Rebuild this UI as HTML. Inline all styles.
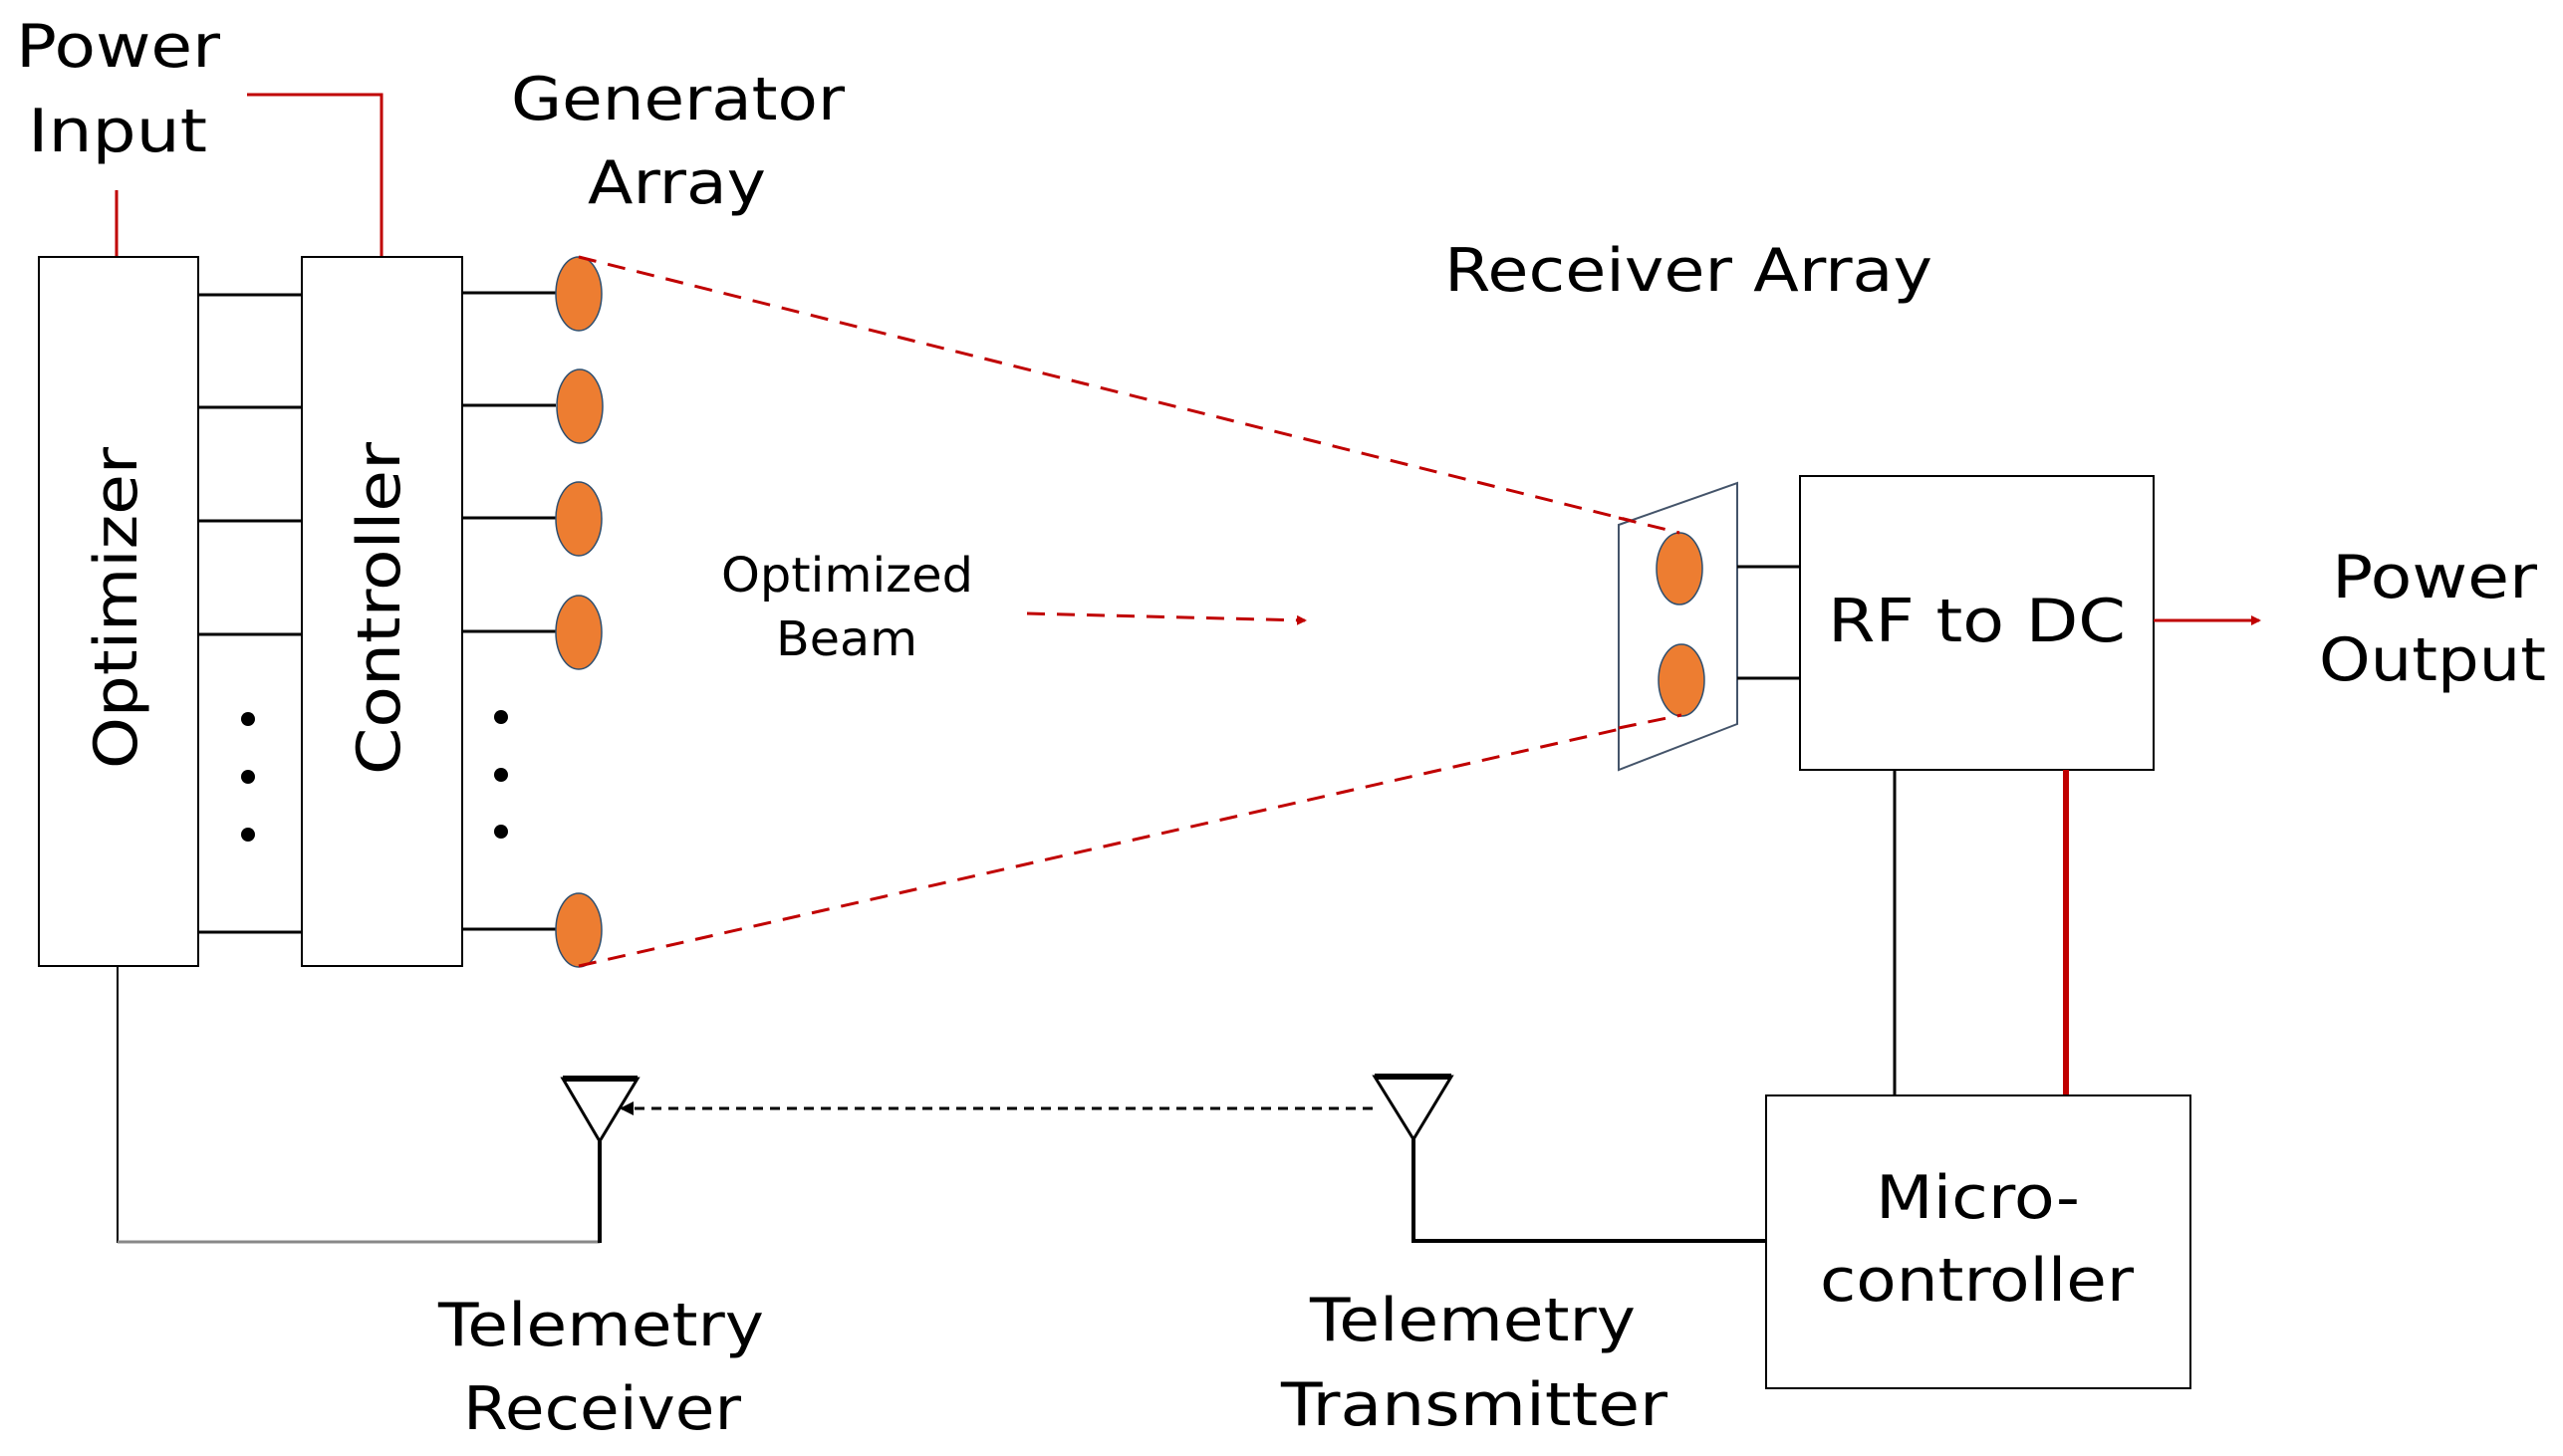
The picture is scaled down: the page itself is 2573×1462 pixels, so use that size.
<!DOCTYPE html>
<html><head><meta charset="utf-8"><style>
html,body{margin:0;padding:0;background:#fff;}
svg{display:block;}
text{font-family:"DejaVu Sans","Liberation Sans",sans-serif;fill:#000;}
</style></head><body>
<svg width="2573" height="1462" viewBox="0 0 2573 1462" xmlns="http://www.w3.org/2000/svg">
<defs>
<marker id="ar" markerWidth="10" markerHeight="10" refX="8" refY="5" orient="auto" markerUnits="userSpaceOnUse">
<path d="M0,0 L10,5 L0,10 z" fill="#c00000"/></marker>
<marker id="ab" markerWidth="14" markerHeight="14" refX="12" refY="7" orient="auto" markerUnits="userSpaceOnUse">
<path d="M0,0 L14,7 L0,14 z" fill="#000"/></marker>
</defs>
<!-- power input red lines -->
<line x1="117" y1="191" x2="117" y2="258" stroke="#c00000" stroke-width="3"/>
<polyline points="248,95 383,95 383,258" fill="none" stroke="#c00000" stroke-width="3"/>
<!-- boxes -->
<rect x="39" y="258" width="160" height="712" fill="#fff" stroke="#000" stroke-width="2"/>
<rect x="303" y="258" width="161" height="712" fill="#fff" stroke="#000" stroke-width="2"/>
<g stroke="#000" stroke-width="3">
<line x1="199" y1="296" x2="303" y2="296"/><line x1="199" y1="409" x2="303" y2="409"/>
<line x1="199" y1="523" x2="303" y2="523"/><line x1="199" y1="637" x2="303" y2="637"/>
<line x1="199" y1="936" x2="303" y2="936"/>
<line x1="464" y1="294" x2="558" y2="294"/><line x1="464" y1="407" x2="558" y2="407"/>
<line x1="464" y1="520" x2="558" y2="520"/><line x1="464" y1="634" x2="558" y2="634"/>
<line x1="464" y1="933" x2="558" y2="933"/>
</g>
<g fill="#000">
<circle cx="249" cy="722" r="7"/><circle cx="249" cy="780" r="7"/><circle cx="249" cy="838" r="7"/>
<circle cx="503" cy="720" r="7"/><circle cx="503" cy="778" r="7"/><circle cx="503" cy="835" r="7"/>
</g>
<g fill="#ed7d31" stroke="#2f4f6f" stroke-width="1.5">
<ellipse cx="581" cy="295" rx="23" ry="37"/><ellipse cx="582" cy="408" rx="23" ry="37"/>
<ellipse cx="581" cy="521" rx="23" ry="37"/><ellipse cx="581" cy="635" rx="23" ry="37"/>
<ellipse cx="581" cy="934" rx="23" ry="37"/>
</g>
<!-- beam -->
<g stroke="#c00000" stroke-width="3" stroke-dasharray="18,12" fill="none">
<line x1="581" y1="258" x2="1686" y2="535"/>
<line x1="581" y1="970" x2="1688" y2="718"/>
</g>
<line x1="1031" y1="616" x2="1310" y2="623" stroke="#c00000" stroke-width="3" stroke-dasharray="18,12" marker-end="url(#ar)"/>
<!-- receiver plate -->
<polygon points="1625,527 1744,485 1744,727 1625,773" fill="#fff" stroke="#44546a" stroke-width="2"/>
<g fill="#ed7d31" stroke="#2f4f6f" stroke-width="1.5">
<ellipse cx="1686" cy="571" rx="23" ry="36"/><ellipse cx="1688" cy="683" rx="23" ry="36"/>
</g>
<g stroke="#c00000" stroke-width="3" stroke-dasharray="18,12" fill="none">
<line x1="1625" y1="520" x2="1686" y2="535"/>
<line x1="1625" y1="731" x2="1688" y2="718"/>
</g>
<line x1="1744" y1="569" x2="1807" y2="569" stroke="#000" stroke-width="3"/>
<line x1="1744" y1="681" x2="1807" y2="681" stroke="#000" stroke-width="3"/>
<rect x="1807" y="478" width="355" height="295" fill="#fff" stroke="#000" stroke-width="2"/>
<line x1="2162" y1="623" x2="2268" y2="623" stroke="#c00000" stroke-width="3" marker-end="url(#ar)"/>
<line x1="1902" y1="773" x2="1902" y2="1100" stroke="#000" stroke-width="3"/>
<line x1="2074" y1="773" x2="2074" y2="1100" stroke="#c00000" stroke-width="6"/>
<rect x="1773" y="1100" width="426" height="294" fill="#fff" stroke="#000" stroke-width="2"/>
<!-- telemetry -->
<polyline points="118,970 118,1247 602,1247 602,1146" fill="none" stroke="#000" stroke-width="2"/>
<line x1="118" y1="1247" x2="602" y2="1247" stroke="#888" stroke-width="3"/>
<line x1="602" y1="1146" x2="602" y2="1248" stroke="#000" stroke-width="4"/>
<polygon points="565,1083 640,1083 602,1146" fill="none" stroke="#000" stroke-width="3"/>
<line x1="565" y1="1083" x2="640" y2="1083" stroke="#000" stroke-width="6"/>
<line x1="1378" y1="1113" x2="624" y2="1113" stroke="#000" stroke-width="3" stroke-dasharray="10,7" marker-end="url(#ab)"/>
<polygon points="1380,1081 1457,1081 1419,1144" fill="none" stroke="#000" stroke-width="3"/>
<line x1="1380" y1="1081" x2="1457" y2="1081" stroke="#000" stroke-width="6"/>
<polyline points="1419,1144 1419,1246 1773,1246" fill="none" stroke="#000" stroke-width="4"/>
<!-- text -->
<text x="16" y="67" font-size="60" textLength="205" lengthAdjust="spacingAndGlyphs">Power</text>
<text x="28" y="152" font-size="60" textLength="180" lengthAdjust="spacingAndGlyphs">Input</text>
<text x="513" y="120" font-size="60" textLength="335" lengthAdjust="spacingAndGlyphs">Generator</text>
<text x="590" y="204" font-size="60" textLength="179" lengthAdjust="spacingAndGlyphs">Array</text>
<text x="1450" y="292" font-size="60" textLength="490" lengthAdjust="spacingAndGlyphs">Receiver Array</text>
<text transform="translate(137,772) rotate(-90)" font-size="60" textLength="323" lengthAdjust="spacingAndGlyphs">Optimizer</text>
<text transform="translate(401,778) rotate(-90)" font-size="60" textLength="334" lengthAdjust="spacingAndGlyphs">Controller</text>
<text x="724" y="594" font-size="48" textLength="253" lengthAdjust="spacingAndGlyphs">Optimized</text>
<text x="779" y="658" font-size="48" textLength="142" lengthAdjust="spacingAndGlyphs">Beam</text>
<text x="1835" y="644" font-size="60" textLength="299" lengthAdjust="spacingAndGlyphs">RF to DC</text>
<text x="2341" y="600" font-size="60" textLength="206" lengthAdjust="spacingAndGlyphs">Power</text>
<text x="2328" y="683" font-size="60" textLength="228" lengthAdjust="spacingAndGlyphs">Output</text>
<text x="1883" y="1223" font-size="60" textLength="205" lengthAdjust="spacingAndGlyphs">Micro-</text>
<text x="1827" y="1306" font-size="60" textLength="315" lengthAdjust="spacingAndGlyphs">controller</text>
<text x="440" y="1351" font-size="60" textLength="327" lengthAdjust="spacingAndGlyphs">Telemetry</text>
<text x="465" y="1435" font-size="60" textLength="279" lengthAdjust="spacingAndGlyphs">Receiver</text>
<text x="1315" y="1346" font-size="60" textLength="327" lengthAdjust="spacingAndGlyphs">Telemetry</text>
<text x="1286" y="1431" font-size="60" textLength="388" lengthAdjust="spacingAndGlyphs">Transmitter</text>
</svg>
</body></html>
